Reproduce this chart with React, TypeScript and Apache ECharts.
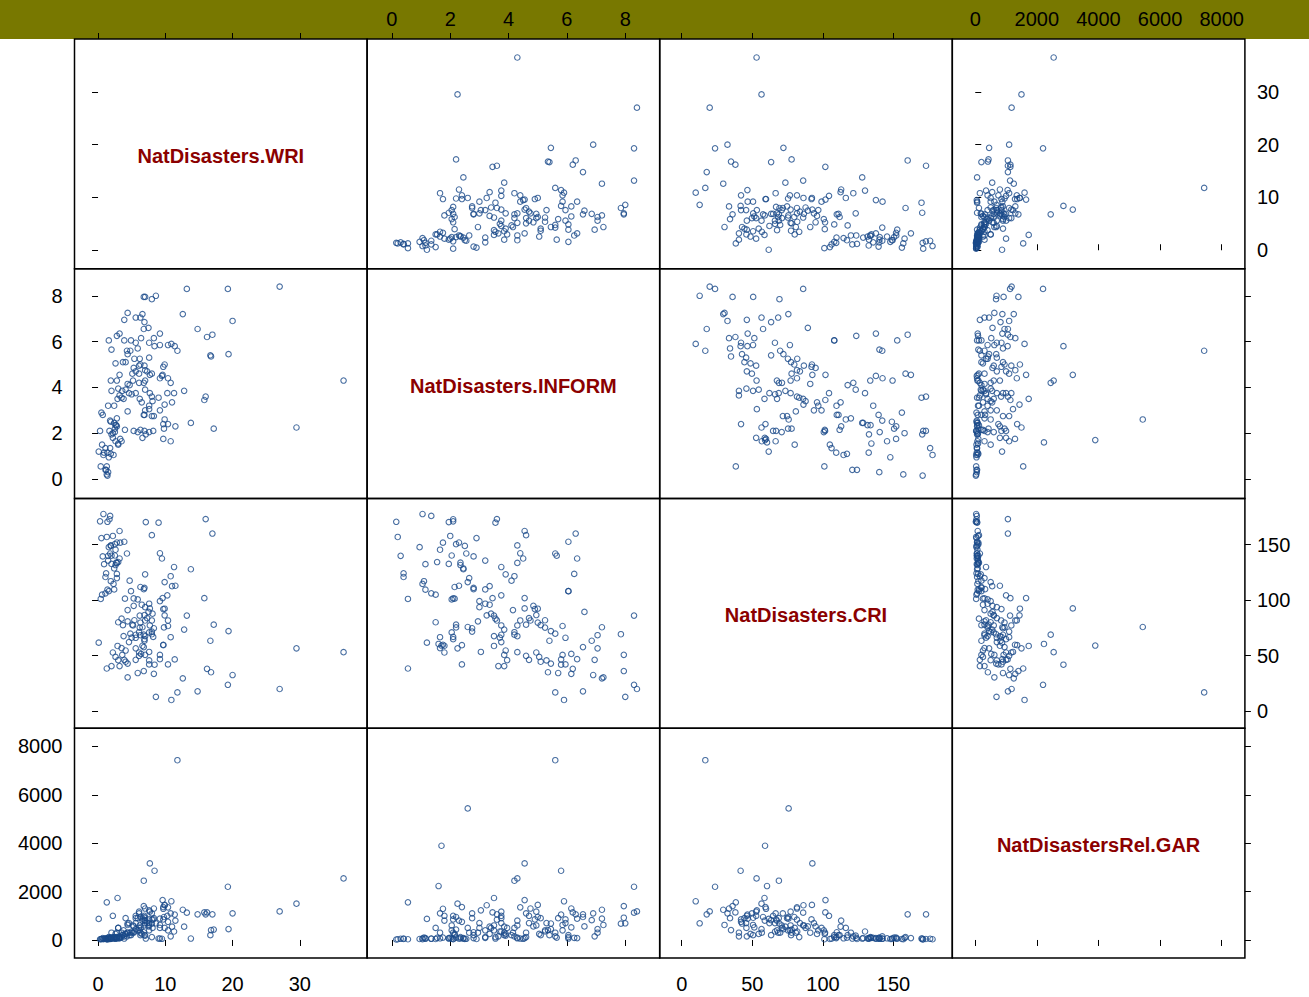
import React, { useEffect, useRef } from "react";
import * as echarts from "echarts";

// ---- variables (diagonal labels) ----
const VAR_NAMES = ["NatDisasters.WRI", "NatDisasters.INFORM", "NatDisasters.CRI", "NatDisastersRel.GAR"];

// ---- tick labels ----
const WRI_TICKS = [0, 10, 20, 30];
const INFORM_TICKS = [0, 2, 4, 6, 8];
const CRI_TICKS = [0, 50, 100, 150];
const GAR_TICKS = [0, 2000, 4000, 6000, 8000];

// ---- data (one entry per country; null = missing) ----
const WRI: (number | null)[] = [
  27.0, 19.3, 8.6, 6.8, 7.0, 8.0, 13.2, 12.6, 4.4, 6.6,
  5.6, 6.3, 20.0, 3.9, 6.9, 14.8, 6.8, 7.5, 16.2, 17.0,
  1.6, 2.8, 3.2, 3.9, 4.9, 5.6, 6.4, 7.6, 8.3, 8.4,
  9.2, 9.2, 10.4, 10.9, 11.4, 11.8, 19.4, 16.8, 16.7, 2.0,
  4.3, 4.8, 5.9, 4.4, 7.6, 6.2, 5.4, 3.7, 4.1, 2.6,
  6.1, 6.3, 6.9, 9.7, 9.9, 5.3, 5.1, 7.0, 7.3, 5.6,
  6.1, 7.7, 9.5, 8.0, 3.2, 9.6, 36.5, 10.4, 5.2, 6.8,
  7.0, 6.1, 4.4, 4.7, 10.8, 2.8, 9.2, 1.9, 16.0, 15.8,
  12.8, 2.0, 2.9, 3.6, 3.2, 3.5, 3.8, 4.1, 4.6, 5.0,
  5.6, 6.2, 7.7, 8.0, 8.1, 10.3, 11.3, 6.5, 7.0, 9.0,
  3.0, 1.5, 2.4, 0.5, 0.7, 4.4, 7.0, 7.6, 9.2, 9.9,
  11.0, 7.6, 6.9, 6.8, 8.0, 8.3, 29.5, 13.8, 17.2, 1.8,
  1.9, 2.4, 2.6, 2.7, 2.8, 2.5, 0.3, 1.7, 2.2, 4.0,
  5.3, 5.9, 6.3, 6.9, 7.6, 8.2, 9.7, 10.4, 9.8, 11.5,
  9.9, 2.8, 1.3, 9.7, 10.8, 3.0, 3.5, 6.6, 2.2, 0.6,
  1.1, 1.4, 1.9, 0.1, 0.4, 1.2, 1.5, 1.3, 1.4, 1.1,
  2.0, 2.5, 3.0, 2.6, 3.3, 0.9, 1.6, 7.1, 1.8, 0.8,
  2.3, null, null, null,
];
const INFORM: (number | null)[] = [
  8.4, 8.3, 8.0, 7.95, 7.95, 7.85, 8.3, 7.2, 7.25, 7.2,
  7.05, 7.05, 6.9, 6.95, 6.85, 6.55, 6.55, 6.6, 6.2, 6.3,
  6.05, 6.25, 6.35, 6.05, 6.05, 5.95, 6.15, 5.95, 6.15, 5.8,
  5.85, 6.35, 5.85, 5.9, 5.8, 5.6, 5.45, 5.35, 5.4, 5.65,
  5.6, 5.6, 5.7, 5.45, 5.3, 5.25, 5.25, 5.1, 5.1, 5.05,
  4.95, 5.0, 4.95, 4.9, 5.0, 4.85, 4.6, 4.75, 4.7, 4.7,
  4.6, 4.55, 4.5, 4.6, 4.55, 4.55, 4.3, 4.4, 4.3, 4.2,
  4.3, 4.2, 4.15, 4.1, 4.2, 4.3, 4.4, 4.3, 3.6, 3.45,
  3.85, 3.85, 3.5, 3.85, 3.65, 3.55, 3.5, 3.9, 3.75, 3.7,
  3.75, 3.5, 3.75, 3.6, 3.4, 3.75, 3.75, 3.35, 3.9, 3.55,
  3.95, 3.2, 3.2, 2.9, 2.8, 2.95, 3.0, 3.05, 3.0, 3.25,
  3.35, 3.2, 2.8, 2.8, 2.75, 2.75, 2.25, 2.45, 2.2, 2.55,
  2.5, 2.45, 2.35, 2.35, 2.3, 2.2, 2.1, 2.1, 2.0, 2.15,
  2.1, 2.05, 2.15, 2.1, 2.05, 2.1, 2.4, 2.4, 2.2, 2.3,
  2.6, 2.65, 0.55, 1.75, 1.65, 1.5, 1.65, 1.8, 1.8, 1.5,
  1.35, 1.15, 1.1, 1.2, 0.55, 0.4, 0.3, 0.2, 0.15, 0.4,
  1.95, 2.05, 1.55, 1.65, 1.75, 1.15, 0.95, 1.95, 1.35, 1.05,
  1.05, 2.6, 1.7, 1.6,
];
const CRI: (number | null)[] = [
  19.8, 23.6, 12.7, 36, 50.6, 69.2, 86, 29.4, 30.3, 75.5,
  56.5, 68.3, 32.4, 46.1, 63.3, 17.7, 57.6, 89.3, 38, 160,
  108, 123.6, 137.5, 152.6, 108, 66, 51.4, 42, 33.5, 41.7,
  50.5, 46.7, 76.6, 9.9, 46.5, 16.7, 72, 34.9, 63.3, 140,
  142, 69.7, 34.2, 42.7, 45.6, 75.2, 81.8, 77.4, 44.4, 48.7,
  52.7, 79.7, 86.5, 91.9, 92.2, 94.8, 77.8, 81.6, 83.7, 46.1,
  49.7, 92.5, 137.5, 158.5, 162.3, 101.8, 53, 81.6, 77.1, 68.8,
  67.4, 71, 91, 117.5, 121.5, 133.5, 142.2, 149.3, 173, 101.7,
  73.4, 40.5, 58.6, 50.5, 40.5, 83.2, 67.5, 54.5, 62.1, 66.1,
  68.7, 86, 77.1, 81.6, 87.7, 104.3, 129.8, 95.8, 123.2, 169.8,
  45.8, 135.6, 109.6, 155.9, 139.4, 80.8, 93.6, 53.2, 99, 86.2,
  112.5, 96.7, 111, 109.8, 71.6, 74.6, 56.5, 127.8, 77.8, 142,
  148.8, 128.5, 131.6, 133.7, 151.9, 150.4, 171, 172.9, 157.8, 101.3,
  101.5, 100.6, 111.8, 64.7, 70.8, 66.8, 59.3, 42, 75.3, 112.9,
  116.2, 119.8, 38.3, 59.7, 66.5, 80, 56.7, 58.8, 52.7, 104.9,
  106.1, 109.4, 117, 61.6, 101, 124.1, 139.9, 156.9, 170.6, 120.8,
  132.6, 140.2, 134.3, 145.4, 151.8, 132.4, 147.7, 170.3, 175.9, 177.6,
  114.6, 75.7, 59, 60.4,
];
const GAR: (number | null)[] = [
  1180, 2200, 690, 1400, 920, 675, 1130, 1250, 620, 880,
  450, 300, 1100, 150, 820, 1060, 950, 560, 1140, 1060,
  120, 90, 80, 60, 200, 700, 520, 850, 1300, 2862,
  620, 880, 400, 1600, 1050, 7430, 450, 410, 200, 100,
  150, 300, 900, 680, 700, 400, 350, 200, 900, 250,
  1170, 950, 600, 850, 1450, 560, 300, 1300, 700, 1000,
  1100, 3166, 50, 120, 80, 1650, 2545, 1349, 600, 2449,
  800, 500, 300, 200, 150, 100, 60, 70, 1060, 1140,
  550, 300, 1735, 200, 150, 120, 400, 250, 700, 350,
  900, 600, 1170, 840, 500, 1000, 350, 250, 180, 60,
  500, 90, 120, 40, 80, 300, 700, 1225, 500, 1436,
  550, 400, 200, 320, 1100, 900, 1500, 60, 430, 50,
  40, 80, 70, 120, 60, 100, 30, 40, 90, 250,
  300, 400, 200, 1000, 600, 850, 1360, 750, 950, 800,
  500, 300, 1556, 1290, 1100, 500, 300, 800, 1000, 40,
  60, 80, 100, 870, 30, 40, 50, 30, 20, 60,
  80, 60, 90, 70, 100, 50, 40, 60, 50, 30,
  70, 5437, 3895, 2230,
];

// ---- presentation ----
const COLUMNS = [WRI, INFORM, CRI, GAR];
const TICKS = [WRI_TICKS, INFORM_TICKS, CRI_TICKS, GAR_TICKS];
const RANGES: [number, number][] = [[-3.5, 40], [-0.85, 9.18], [-15.6, 191.6], [-745, 8752]];
const PANEL_LEFT = 74.5;
const PANEL_TOP = 39;
const PANEL_W = 292.6;
const PANEL_H = 229.75;
const FONT = '"Liberation Sans", Arial, Helvetica, sans-serif';
const POINT_COLOR = "#1a4a8a";
const LABEL_COLOR = "#8B0000";
const BAND_COLOR = "#787800";

function makeAxis(v: number, gridIndex: number, position: string, showTicks: boolean, showLabels: boolean, margin: number) {
  const [min, max] = RANGES[v];
  return {
    type: "value",
    gridIndex,
    position,
    min,
    max,
    show: showTicks,
    axisLine: { show: false },
    splitLine: { show: false },
    axisTick: {
      show: showTicks,
      customValues: TICKS[v],
      length: 6,
      lineStyle: { color: "#000", width: 1 },
    },
    axisLabel: {
      show: showLabels,
      customValues: TICKS[v],
      color: "#000",
      fontSize: 20,
      fontFamily: FONT,
      margin,
      formatter: (val: number) => String(val),
    },
  };
}

function buildOption() {
  const grids: any[] = [];
  const xAxes: any[] = [];
  const yAxes: any[] = [];
  const series: any[] = [];
  const graphics: any[] = [];

  for (let r = 0; r < 4; r++) {
    for (let c = 0; c < 4; c++) {
      const gi = r * 4 + c;
      grids.push({
        left: PANEL_LEFT + c * PANEL_W,
        top: PANEL_TOP + r * PANEL_H,
        width: PANEL_W,
        height: PANEL_H,
        show: true,
        borderColor: "#000",
        borderWidth: 1.5,
        backgroundColor: "rgba(0,0,0,0)",
      });
      xAxes.push(makeAxis(c, gi, "bottom", r === 3, r === 3 && c % 2 === 0, 16));
      yAxes.push(makeAxis(r, gi, "left", c === 0, c === 0 && r % 2 === 1, 12));

      if (r !== c) {
        const xs = COLUMNS[c];
        const ys = COLUMNS[r];
        const data: number[][] = [];
        for (let i = 0; i < xs.length; i++) {
          const xv = xs[i];
          const yv = ys[i];
          if (xv !== null && yv !== null) data.push([xv, yv]);
        }
        series.push({
          type: "scatter",
          xAxisIndex: gi,
          yAxisIndex: gi,
          data,
          symbol: "circle",
          symbolSize: 5.5,
          silent: true,
          itemStyle: { color: "rgba(0,0,0,0)", borderColor: POINT_COLOR, borderWidth: 1.1 },
        });
      } else {
        graphics.push({
          type: "text",
          x: PANEL_LEFT + c * PANEL_W + PANEL_W / 2,
          y: PANEL_TOP + r * PANEL_H + PANEL_H / 2 + 2,
          style: {
            text: VAR_NAMES[r],
            fill: LABEL_COLOR,
            fontSize: 20,
            fontWeight: "bold",
            fontFamily: FONT,
            align: "center",
            verticalAlign: "middle",
            textAlign: "center",
            textVerticalAlign: "middle",
          },
        });
      }
    }
  }
  for (let c = 0; c < 4; c++) {
    xAxes.push(makeAxis(c, c, "top", true, c % 2 === 1, 10));
  }
  for (let r = 0; r < 4; r++) {
    yAxes.push(makeAxis(r, r * 4 + 3, "right", true, r % 2 === 0, 12));
  }

  return {
    animation: false,
    backgroundColor: "rgba(0,0,0,0)",
    grid: grids,
    xAxis: xAxes,
    yAxis: yAxes,
    series,
    graphic: { elements: graphics },
  };
}

export default function App() {
  const ref = useRef<HTMLDivElement | null>(null);
  useEffect(() => {
    if (!ref.current) return;
    const chart = echarts.init(ref.current, undefined, { renderer: "svg" });
    chart.setOption(buildOption() as any);
    return () => chart.dispose();
  }, []);
  return (
    <div style={{ position: "absolute", left: 0, top: 0, width: 1309, height: 997, background: "#fff", overflow: "hidden" }}>
      <div style={{ position: "absolute", left: 0, top: 0, width: 1309, height: 39, background: BAND_COLOR }} />
      <div ref={ref} style={{ position: "absolute", left: 0, top: 0, width: 1309, height: 997 }} />
    </div>
  );
}
